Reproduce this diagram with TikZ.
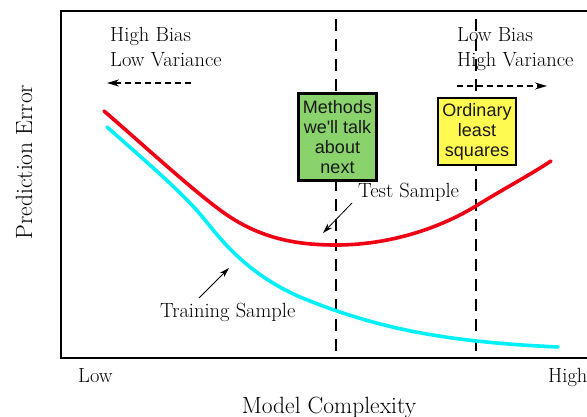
\documentclass[tikz,border=0pt]{standalone}
\usepackage{fontspec}
\newfontfamily\boxfont{Liberation Sans}
\usetikzlibrary{arrows.meta}
\definecolor{boxgreen}{RGB}{138,210,108}
\definecolor{boxyellow}{RGB}{255,250,80}
\definecolor{testred}{RGB}{240,0,20}
\definecolor{traincyan}{RGB}{0,240,250}
\definecolor{boxtext}{RGB}{25,25,25}
\tikzset{
  lbl/.style={inner sep=0pt, font=\fontsize{20.5}{24}\selectfont},
  axlbl/.style={inner sep=0pt, font=\fontsize{23.5}{27}\selectfont},
  methodbox/.style={draw=black, line width=2.6pt, inner sep=0pt, align=center,
    text=boxtext, font=\boxfont\fontsize{18}{20}\selectfont},
  vdash/.style={line width=2.6pt, dash pattern=on 12pt off 8pt},
  harrow/.style={line width=1.6pt, dash pattern=on 6pt off 4pt, -{Stealth[length=12pt,width=7pt]}},
  pointer/.style={line width=0.8pt, -{Stealth[length=10pt,width=6pt]}},
  curve/.style={line width=3.6pt, line cap=round, line join=round}
}
\begin{document}
\begin{tikzpicture}[x=1pt,y=-1pt]
\useasboundingbox (0,0) rectangle (587,417);
% frame (right side outside the picture)
\draw[line width=1.2pt] (600,11) -- (61,11) -- (61,358) -- (600,358);
% vertical dashed lines
\coordinate (d1t) at (336,19); \coordinate (d1b) at (336,357);
\coordinate (d2t) at (476,19); \coordinate (d2b) at (476,357);
\draw[vdash] (d1t) -- (d1b);
\draw[vdash] (d2t) -- (d2b);
% curves
\draw[curve, testred] (104,111) .. controls (140,142) and (190,188) .. (220,210)
  .. controls (260,240) and (300,245) .. (336,245)
  .. controls (390,245) and (440,228) .. (476,206)
  .. controls (505,188) and (530,175) .. (551,161);
\draw[curve, traincyan] (107,127) .. controls (150,165) and (185,195) .. (205,220)
  .. controls (225,245) and (250,275) .. (300,297)
  .. controls (380,330) and (450,342) .. (558,347);
% boxes
\node[methodbox, fill=boxgreen, minimum width=78pt, minimum height=87pt] (meth) at (337.5,137)
  {Methods\\we'll talk\\about\\next};
\node[methodbox, fill=boxyellow, minimum width=78pt, minimum height=67pt] (ols) at (477,131.5)
  {Ordinary\\least\\squares};
% labels
\node[lbl, anchor=base west] (hb) at (110,42) {High Bias};
\node[lbl, anchor=base west] (lv) at (110,67) {Low Variance};
\node[lbl, anchor=base west] (lb) at (457,42) {Low Bias};
\node[lbl, anchor=base west] (hv) at (457,67) {High Variance};
\coordinate (la1) at (191,83); \coordinate (la2) at (107,83);
\draw[harrow] (la1) -- (la2);
\coordinate (ra1) at (457,86); \coordinate (ra2) at (547,86);
\draw[harrow] (ra1) -- (ra2);
\node[lbl, anchor=base west] (ts) at (358,198) {Test Sample};
\coordinate (tsa) at (352,203); \coordinate (tsb) at (323,233);
\draw[pointer] (tsa) -- (tsb);
\node[lbl, anchor=base west] (tr) at (160,317) {Training Sample};
\coordinate (tra) at (199,298); \coordinate (trb) at (229,268);
\draw[pointer] (tra) -- (trb);
\node[lbl, anchor=base west] (low) at (78,382) {Low};
\node[lbl, anchor=base west] (high) at (548,382) {High};
\node[axlbl, anchor=base] (mc) at (329,413) {Model Complexity};
\node[axlbl, anchor=base, rotate=90] (pe) at (32,162) {Prediction Error};
\end{tikzpicture}
\end{document}
